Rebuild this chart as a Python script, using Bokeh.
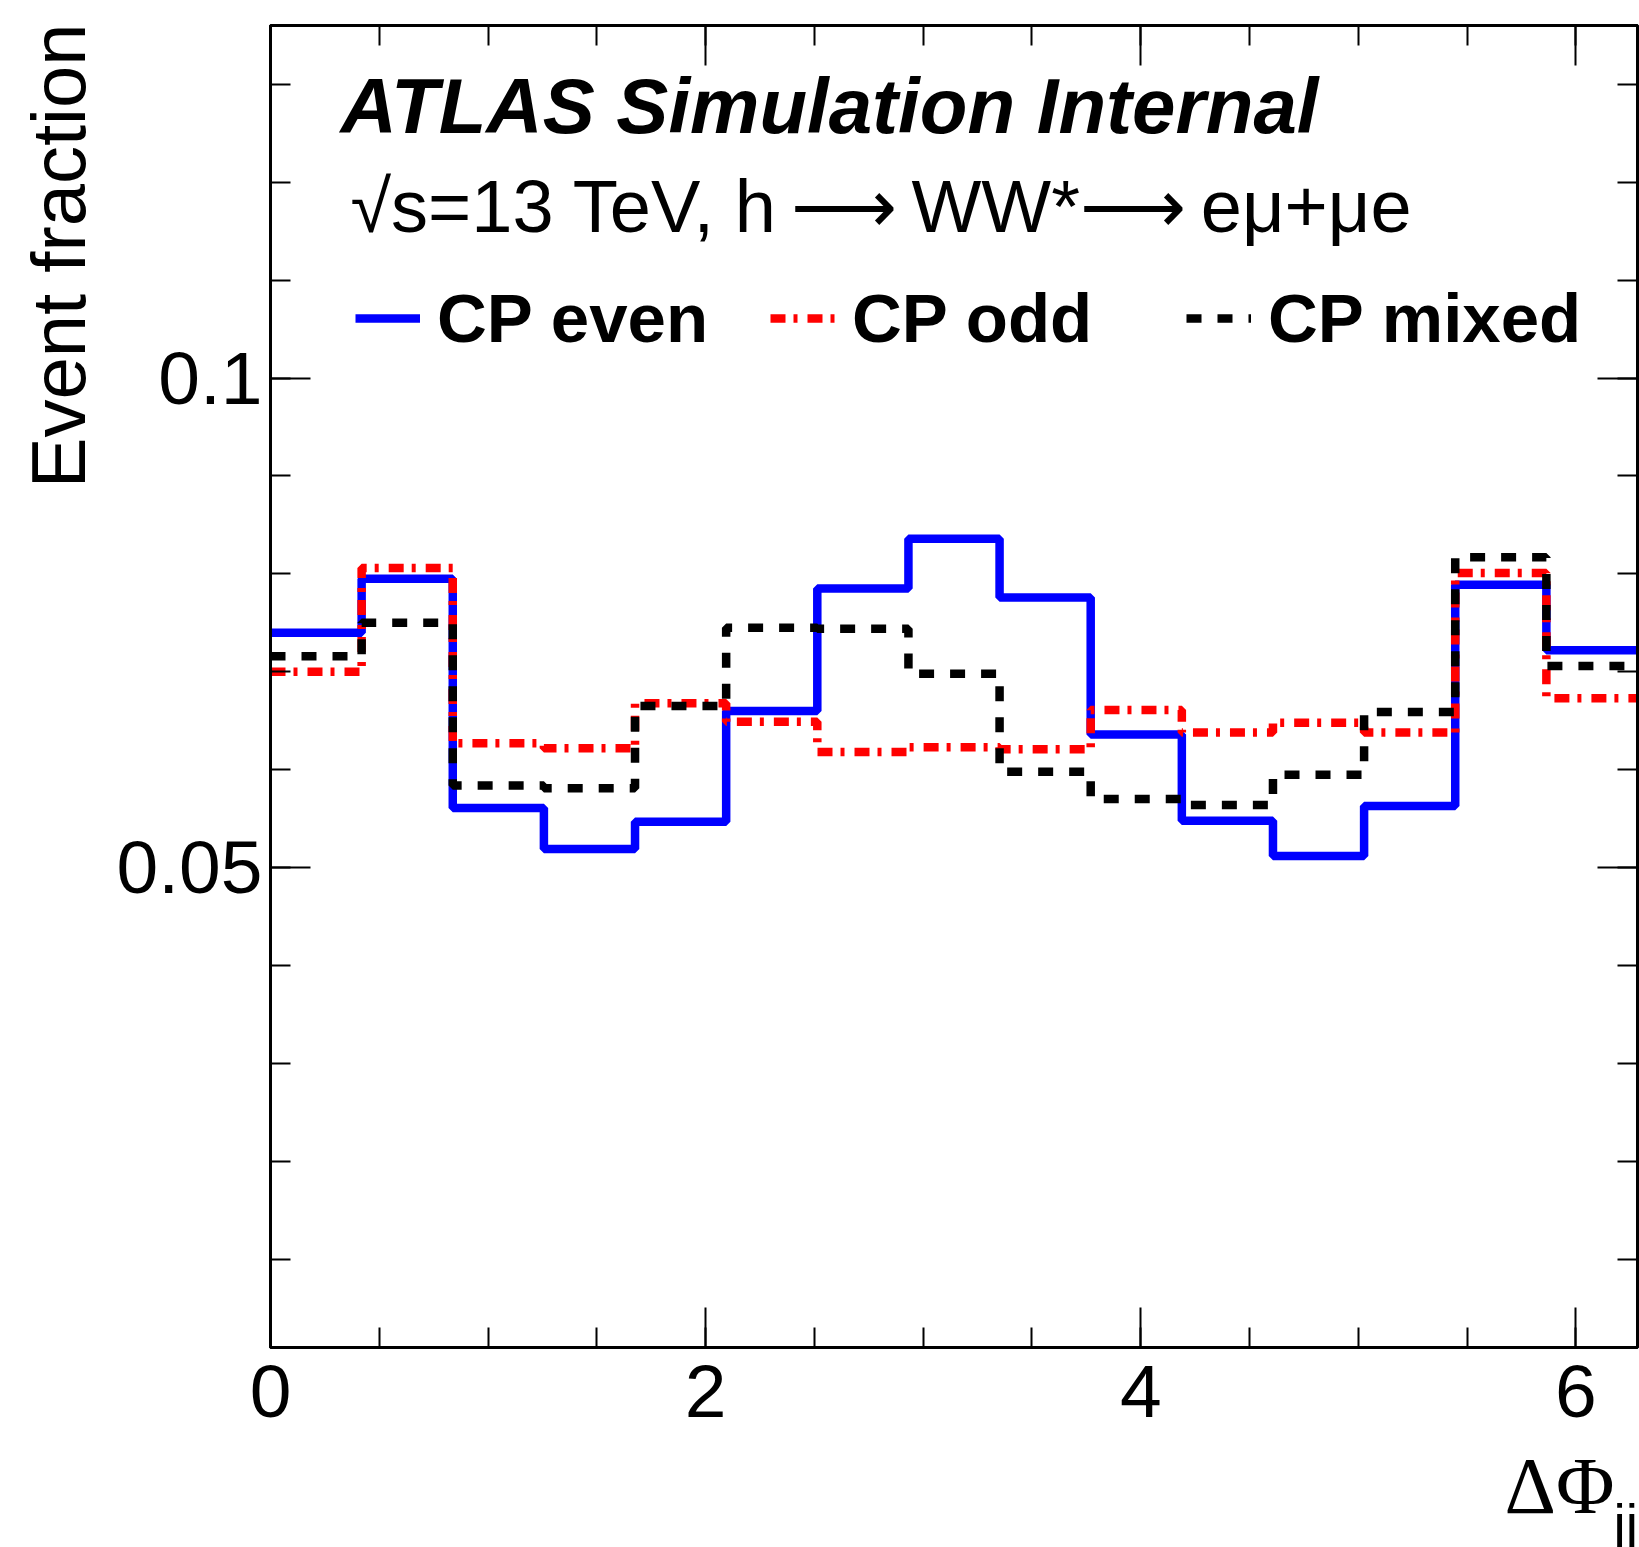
import numpy as np
from bokeh.plotting import figure
from bokeh.models import (LinearAxis, FixedTicker, Label, Legend, LegendItem,
                          Range1d, CustomJSTickFormatter)
from bokeh.embed import file_html
from bokeh.resources import INLINE

# ---- data ----
n_bins = 15
x_min, x_max = 0.0, 2 * np.pi
edges = list(np.linspace(x_min, x_max, n_bins + 1))

cp_even = [0.0740, 0.0795, 0.0561, 0.0519, 0.0547, 0.0660, 0.0785, 0.0836,
           0.0776, 0.0636, 0.0548, 0.0512, 0.0563, 0.0789, 0.0722]
cp_odd = [0.0700, 0.0806, 0.0627, 0.0622, 0.0668, 0.0649, 0.0618, 0.0623,
          0.0621, 0.0661, 0.0638, 0.0648, 0.0638, 0.0801, 0.0673]
cp_mixed = [0.0716, 0.0750, 0.0584, 0.0581, 0.0665, 0.0745, 0.0744, 0.0698,
            0.0598, 0.0570, 0.0564, 0.0595, 0.0659, 0.0817, 0.0706]

series_names = ["CP even", "CP odd", "CP mixed"]

x_major = [0, 2, 4, 6]
x_minor = [0.5 * k for k in range(0, 13)]
y_major = [0.05, 0.1]
y_minor = [round(0.01 * k, 2) for k in range(1, 14)]
y_labels = {0.05: "0.05", 0.1: "0.1"}
y_lo, y_hi = 0.001, 0.136

FONT = "Liberation Sans"

p = figure(width=1639, height=1547,
           x_range=Range1d(x_min, x_max), y_range=Range1d(y_lo, y_hi),
           output_backend="svg", toolbar_location=None, title=None,
           min_border_left=270, min_border_right=2,
           min_border_top=25, min_border_bottom=200)
p.xgrid.visible = False
p.ygrid.visible = False
p.background_fill_color = "white"
p.border_fill_color = "white"
p.outline_line_color = "black"
p.outline_line_width = 3

p.add_layout(LinearAxis(), "above")
p.add_layout(LinearAxis(), "right")

def style_axis(ax, ticks, minor, show_labels):
    ax.ticker = FixedTicker(ticks=ticks, minor_ticks=minor)
    ax.axis_line_color = "black"
    ax.axis_line_width = 3
    ax.major_tick_line_color = "black"
    ax.minor_tick_line_color = "black"
    ax.major_tick_line_width = 2
    ax.minor_tick_line_width = 2
    ax.major_tick_in = 40
    ax.major_tick_out = 0
    ax.minor_tick_in = 20
    ax.minor_tick_out = 0
    ax.major_label_text_font = FONT
    if show_labels:
        ax.major_label_text_color = "black"
        ax.major_label_text_font_size = "75px"
    else:
        ax.formatter = CustomJSTickFormatter(code="return ''")
        ax.major_label_text_color = None
        ax.major_label_text_font_size = "1px"
        ax.major_label_standoff = 0

for ax in p.below:
    style_axis(ax, x_major, x_minor, True)
    ax.major_label_standoff = 18
for ax in p.above:
    style_axis(ax, x_major, x_minor, False)
for ax in p.left:
    style_axis(ax, y_major, y_minor, True)
    ax.major_label_overrides = y_labels
    ax.major_label_standoff = 8
for ax in p.right:
    style_axis(ax, y_major, y_minor, False)

# ---- histograms ----
styles = [
    dict(color="#0000ff", dash="solid"),
    dict(color="#ff0000", dash="15 8 4 10"),
    dict(color="black", dash="15 16"),
]
renderers = []
for vals, st in zip([cp_even, cp_odd, cp_mixed], styles):
    r = p.step(x=edges, y=vals + [vals[-1]], mode="after",
               line_color=st["color"], line_width=8.5, line_dash=st["dash"])
    renderers.append(r)

# ---- legend (three single-entry legends placed like ROOT columns) ----
leg_x = [85, 500, 916]
for name, r, lx in zip(series_names, renderers, leg_x):
    leg = Legend(items=[LegendItem(label=name, renderers=[r])],
                 location=(lx, 984), orientation="horizontal",
                 glyph_width=65, glyph_height=90, label_height=90,
                 label_standoff=17, padding=0, margin=0, spacing=0,
                 border_line_color=None, background_fill_alpha=0,
                 label_text_font=FONT, label_text_font_style="bold",
                 label_text_font_size="69px", label_text_color="black")
    p.add_layout(leg)

# ---- texts inside the frame ----
p.add_layout(Label(x=70, y=1242, x_units="screen", y_units="screen",
                   text="ATLAS Simulation Internal", text_font=FONT,
                   text_font_style="bold italic", text_font_size="78px",
                   text_baseline="alphabetic", text_color="black"))
p.add_layout(Label(x=80, y=1141, x_units="screen", y_units="screen",
                   text="√s=13 TeV, h\u2009⟶\u2009WW*⟶\u2009eμ+μe",
                   text_font=FONT, text_font_size="74px",
                   text_baseline="alphabetic", text_color="black"))

# ---- axis titles (outside the frame) ----
p.add_layout(Label(x=1234, y=22, x_units="screen", y_units="screen",
                   text="ΔΦ", text_font="Liberation Serif",
                   text_font_size="80px", text_baseline="middle",
                   text_color="black"), "below")
p.add_layout(Label(x=1524, y=-176, x_units="screen", y_units="screen",
                   text="jj", text_font=FONT, text_font_size="55px",
                   text_baseline="middle", text_color="black"), "left")
p.add_layout(Label(x=54, y=1324, x_units="screen", y_units="screen",
                   text="Event fraction", text_font=FONT,
                   text_font_size="76px", text_baseline="middle",
                   text_align="right", angle=np.pi / 2,
                   text_color="black"), "left")

open("out.html", "w").write(file_html(p, INLINE))
